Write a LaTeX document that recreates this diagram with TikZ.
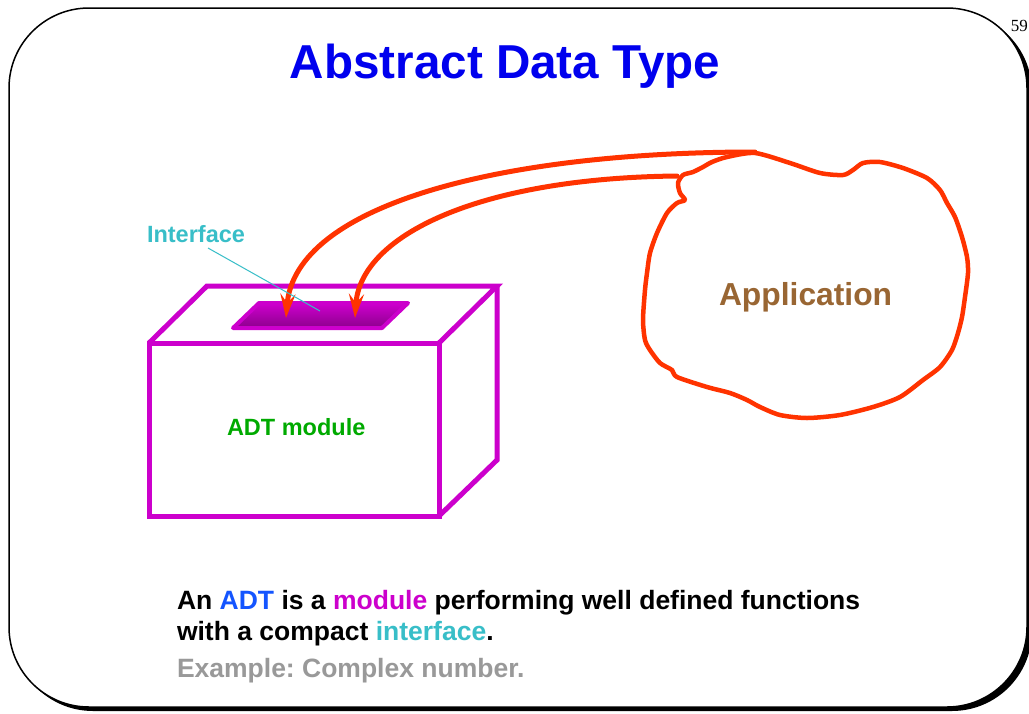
\documentclass[tikz,border=0pt]{standalone}
\usepackage{fontspec}
\setmainfont{Liberation Sans}
\newfontfamily\pagenumfont{Liberation Serif}
\usetikzlibrary{arrows.meta}
\definecolor{titleblue}{RGB}{0,0,238}
\definecolor{adtblue}{RGB}{20,85,255}
\definecolor{magentabox}{RGB}{204,0,204}
\definecolor{slottop}{RGB}{206,0,206}
\definecolor{slotbot}{RGB}{140,0,140}
\definecolor{ifcyan}{RGB}{56,190,200}
\definecolor{exgray}{RGB}{153,153,153}
\definecolor{adtgreen}{RGB}{0,170,0}
\definecolor{appbrown}{RGB}{153,102,51}
\definecolor{redline}{RGB}{255,51,0}
\frenchspacing
\begin{document}
\begin{tikzpicture}[x=1pt,y=-1pt,
  txt/.style={inner sep=0pt, outer sep=0pt, font=\bfseries},
  boxline/.style={draw=magentabox, line width=5pt, line join=miter},
  redarrow/.style={draw=redline, line width=5pt, line cap=round,
    -{Stealth[length=24pt,width=15pt,inset=9pt]}},
  blobline/.style={draw=redline, line width=4.5pt, line join=round}]
\useasboundingbox (0,0) rectangle (1029,713);
% slide frame with shadow
\fill[black, rounded corners=80pt] (13,12) rectangle (1032,711);
\draw[fill=white, line width=1.5pt, rounded corners=80pt] (9,8) rectangle (1027,707);
% page number
\node[inner sep=0pt, anchor=base east, font=\pagenumfont\fontsize{17}{20}\selectfont] (pnum) at (1028,31) {59};
% title
\node[txt, anchor=base, text=titleblue, font=\bfseries\fontsize{47.6}{56}\selectfont] (title) at (505,78) {Abstract Data Type};
% ADT box
\coordinate (fa) at (149,343);
\coordinate (fb) at (439,343);
\coordinate (fc) at (439,516);
\coordinate (fd) at (149,516);
\coordinate (ba) at (207,286);
\coordinate (bb) at (497,286);
\coordinate (bc) at (497,460);
\draw[boxline] (fa) rectangle (fc);
\draw[boxline] (fa) -- (ba) -- (bb) -- (fb);
\draw[boxline] (bb) -- (bc) -- (fc);
% interface slot
\coordinate (s1) at (233,328);
\coordinate (s2) at (259,303);
\coordinate (s3) at (408,303);
\coordinate (s4) at (382,328);
\shade[top color=slottop, bottom color=slotbot] (s1) -- (s2) -- (s3) -- (s4) -- cycle;
\draw[draw=magentabox, line width=4pt, line join=round] (s1) -- (s2) -- (s3) -- (s4) -- cycle;
\coordinate (tip1) at (286,318);
\coordinate (tip2) at (355,318);
% ADT module label
\node[txt, anchor=base west, text=adtgreen, font=\bfseries\fontsize{23.5}{28}\selectfont] (adtmod) at (227,435) {ADT module};
% application blob
\draw[blobline] plot[smooth cycle, tension=0.45] coordinates {
 (755,153) (790,163) (820,173) (843,175) (853,170) (863,163) (880,162) (903,168)
 (927,178) (940,190) (947,203) (955,217) (962,237) (967,257) (968,273)
 (965,297) (962,317) (958,333) (952,350) (940,367) (923,380) (900,397)
 (873,407) (840,415) (807,418) (780,415) (760,407) (747,400) (730,393)
 (707,387) (677,377) (672,370) (660,363) (650,350) (645,340) (643,320)
 (645,290) (647,273) (650,253) (657,233) (667,213) (677,203) (685,200)
 (680,193) (678,183) (683,175) (693,172) (703,167) (712,162) (727,157)};
\coordinate (a1) at (755,152);
\coordinate (a2) at (677,176);
\node[txt, anchor=base west, text=appbrown, font=\bfseries\fontsize{31.8}{38}\selectfont] (app) at (719,305) {Application};
% arrows
\draw[redarrow] (a1) .. controls (500,152) and (295,205) .. (tip1);
\draw[redarrow] (a2) .. controls (480,178) and (360,235) .. (tip2);
% interface label and leader
\node[txt, anchor=base west, text=ifcyan, font=\bfseries\fontsize{23.5}{28}\selectfont] (iflabel) at (147,242) {Interface};
\coordinate (ifpt) at (320,311);
\draw[ifcyan, line width=1pt] (208,248) -- (ifpt);
% bottom text
\node[txt, anchor=base west, font=\bfseries\fontsize{26.5}{32}\selectfont] (line1) at (177,609)
  {An \textcolor{adtblue}{ADT} is a \textcolor{magentabox}{module} performing well defined functions};
\node[txt, anchor=base west, font=\bfseries\fontsize{26.5}{32}\selectfont] (line2) at (177,640)
  {with a compact \textcolor{ifcyan}{interface}.};
\node[txt, anchor=base west, text=exgray, font=\bfseries\fontsize{26.5}{32}\selectfont] (line3) at (177,677)
  {Example: Complex number.};
\end{tikzpicture}
\end{document}
